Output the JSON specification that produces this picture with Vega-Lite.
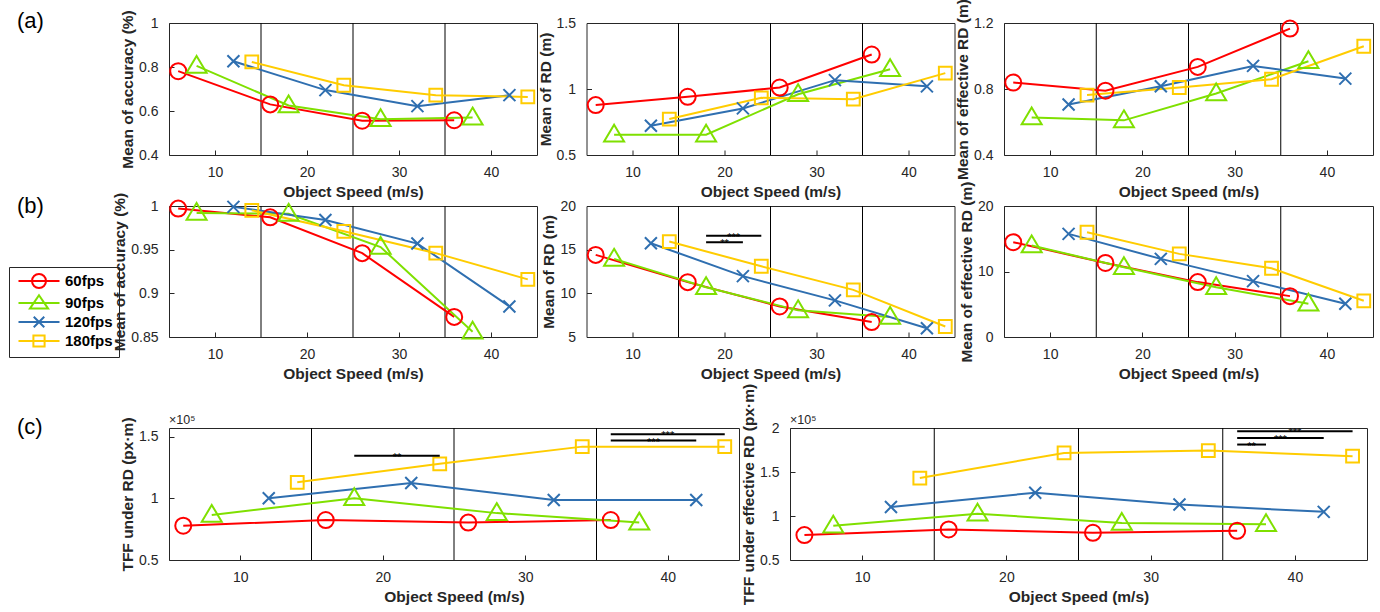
{
"$schema": "https://vega.github.io/schema/vega-lite/v6.json",
"padding": {"left": 8, "top": -2, "right": 0, "bottom": 0},
"config": {
 "font": "Liberation Sans",
 "view": {"stroke": "#262626", "strokeWidth": 1},
 "axis": {"grid": false, "domain": false, "tickColor": "#262626", "tickSize": -5, "tickWidth": 1, "labelColor": "#262626", "labelFontSize": 14, "labelPadding": 16, "titleFontSize": 15.5, "titleFontWeight": "bold", "titleColor": "#262626", "titlePadding": 3},
 "axisX": {"labelPadding": 15.5, "titlePadding": 5}
},
"datasets": {
 "d": [
  {"fps":"60fps","speed":6,"a1":0.781,"a2":0.878,"a3":0.839,"b1":0.997,"b2":14.4,"b3":14.47,"c1":77800,"c2":78300},
  {"fps":"60fps","speed":16,"a1":0.630,"a2":0.941,"a3":0.790,"b1":0.987,"b2":11.28,"b3":11.3,"c1":82400,"c2":84700},
  {"fps":"60fps","speed":26,"a1":0.556,"a2":1.011,"a3":0.934,"b1":0.946,"b2":8.5,"b3":8.38,"c1":80300,"c2":80900},
  {"fps":"60fps","speed":36,"a1":0.558,"a2":1.261,"a3":1.166,"b1":0.873,"b2":6.71,"b3":6.24,"c1":82400,"c2":83200},
  {"fps":"90fps","speed":8,"a1":0.805,"a2":0.654,"a3":0.627,"b1":0.992,"b2":13.95,"b3":13.96,"c1":86500,"c2":89000},
  {"fps":"90fps","speed":18,"a1":0.625,"a2":0.654,"a3":0.610,"b1":0.991,"b2":10.7,"b3":10.66,"c1":100000,"c2":102600},
  {"fps":"90fps","speed":28,"a1":0.563,"a2":0.96,"a3":0.773,"b1":0.953,"b2":8.05,"b3":7.6,"c1":88000,"c2":92000},
  {"fps":"90fps","speed":38,"a1":0.570,"a2":1.150,"a3":0.968,"b1":0.856,"b2":7.3,"b3":5.08,"c1":80300,"c2":90700},
  {"fps":"120fps","speed":12,"a1":0.826,"a2":0.722,"a3":0.706,"b1":0.999,"b2":15.74,"b3":15.74,"c1":100000,"c2":110300},
  {"fps":"120fps","speed":22,"a1":0.695,"a2":0.853,"a3":0.817,"b1":0.984,"b2":11.97,"b3":11.93,"c1":112400,"c2":126500},
  {"fps":"120fps","speed":32,"a1":0.622,"a2":1.067,"a3":0.940,"b1":0.957,"b2":9.19,"b3":8.53,"c1":98600,"c2":113000},
  {"fps":"120fps","speed":42,"a1":0.672,"a2":1.020,"a3":0.863,"b1":0.885,"b2":6.0,"b3":5.08,"c1":98600,"c2":104700},
  {"fps":"180fps","speed":14,"a1":0.823,"a2":0.772,"a3":0.763,"b1":0.995,"b2":15.93,"b3":15.99,"c1":113000,"c2":143100},
  {"fps":"180fps","speed":24,"a1":0.717,"a2":0.933,"a3":0.809,"b1":0.971,"b2":13.1,"b3":12.69,"c1":128000,"c2":171700},
  {"fps":"180fps","speed":34,"a1":0.672,"a2":0.923,"a3":0.859,"b1":0.946,"b2":10.4,"b3":10.5,"c1":141900,"c2":174400},
  {"fps":"180fps","speed":44,"a1":0.664,"a2":1.120,"a3":1.059,"b1":0.916,"b2":6.2,"b3":5.53,"c1":141900,"c2":168000}
 ],
 "vl": [{"speed":15},{"speed":25},{"speed":35}],
 "la": [{"speed":-11.52,"a1":1.009,"lab":"(a)"}],
 "lb": [{"speed":-11.52,"b1":1.0,"lab":"(b)"}],
 "lc": [{"speed":-5.67,"c1":157800,"lab":"(c)"}],
 "xc1": [{"speed":5,"c1":160240,"lab":"×10⁵"}],
 "xc2": [{"speed":5,"c2":204500,"lab":"×10⁵"}],
 "sb2": [{"speed":18,"speed2":24,"b2":16.6,"mid":21,"lab":"***"},{"speed":18,"speed2":22,"b2":15.85,"mid":20,"lab":"**"}],
 "sc1": [{"speed":18,"speed2":24,"c1":134600,"mid":21,"lab":"**"},{"speed":36,"speed2":44,"c1":151900,"mid":40,"lab":"***"},{"speed":36,"speed2":42,"c1":146800,"mid":39,"lab":"***"}],
 "sc2": [{"speed":36,"speed2":44,"c2":196200,"mid":40,"lab":"***"},{"speed":36,"speed2":42,"c2":188700,"mid":39,"lab":"***"},{"speed":36,"speed2":38,"c2":181200,"mid":37,"lab":"**"}]
},
"spacing": -1,
"vconcat": [
 {"spacing": -21, "vconcat": [
  {"spacing": 49.5, "bounds": "flush", "hconcat": [
   {"width": 368, "height": 132,
    "encoding": {"x": {"field": "speed", "type": "quantitative", "scale": {"domain": [5, 45], "nice": false}, "axis": {"values": [10, 20, 30, 40]}, "title": "Object Speed (m/s)"}},
    "layer": [
     {"data": {"name": "vl"}, "mark": {"type": "rule", "color": "#000000", "strokeWidth": 1}},
     {"data": {"name": "la"}, "mark": {"type": "text", "fontSize": 22, "color": "#000000", "align": "left", "baseline": "middle"},
      "encoding": {"y": {"field": "a1", "type": "quantitative", "title": "Mean of accuracy (%)"}, "text": {"field": "lab"}}},
     {"data": {"name": "d"}, "mark": {"type": "line", "strokeWidth": 2},
      "encoding": {"y": {"field": "a1", "type": "quantitative", "scale": {"domain": [0.4, 1], "nice": false, "zero": false}, "axis": {"values": [0.4, 0.6, 0.8, 1], "format": "~g"}, "title": "Mean of accuracy (%)"},
       "color": {"field": "fps", "type": "nominal", "scale": {"domain": ["60fps","90fps","120fps","180fps"], "range": ["#FF0000","#7FE000","#2F6FB0","#FFCC00"]},
        "legend": {"orient": "none", "legendX": -160, "legendY": 244, "title": null, "symbolSize": 196, "symbolStrokeWidth": 2, "symbolOffset": 16, "labelOffset": 18, "labelFontSize": 15, "labelFontWeight": "bold", "labelColor": "#000000", "strokeColor": "#262626", "padding": 6, "rowPadding": -1, "symbolFillColor": "transparent",
         "encode": {"symbols": {"update": {"shape": {"signal": "datum.value === '60fps' ? 'M-2.93,0L2.93,0M-1,0A1,1 0 1 1 1,0A1,1 0 1 1 -1,0' : datum.value === '90fps' ? 'M-2.93,0L2.93,0M0,-1.1L1.3,0.8L-1.3,0.8Z' : datum.value === '120fps' ? 'M-2.93,0L2.93,0M-0.75,-0.75L0.75,0.75M-0.75,0.75L0.75,-0.75' : 'M-2.93,0L2.93,0M-0.8,-0.8H0.8V0.8H-0.8Z'"}, "fill": {"value": "transparent"}, "stroke": {"scale": "color", "field": "value"}, "strokeWidth": {"value": 2}}}}}}}},
     {"data": {"name": "d"}, "transform": [{"filter": "datum.fps === '60fps'"}], "mark": {"type": "point", "shape": "M-1,0A1,1 0 1 1 1,0A1,1 0 1 1 -1,0Z", "size": 256, "filled": false, "strokeWidth": 2, "color": "#FF0000", "opacity": 1}, "encoding": {"y": {"field": "a1", "type": "quantitative", "title": "Mean of accuracy (%)"}}},
     {"data": {"name": "d"}, "transform": [{"filter": "datum.fps === '90fps'"}], "mark": {"type": "point", "shape": "M0,-1.25L1.25,0.85L-1.25,0.85Z", "size": 256, "filled": false, "strokeWidth": 2, "color": "#7FE000", "opacity": 1}, "encoding": {"y": {"field": "a1", "type": "quantitative", "title": "Mean of accuracy (%)"}}},
     {"data": {"name": "d"}, "transform": [{"filter": "datum.fps === '120fps'"}], "mark": {"type": "point", "shape": "M-0.75,-0.75L0.75,0.75M-0.75,0.75L0.75,-0.75", "size": 256, "filled": false, "strokeWidth": 2, "color": "#2F6FB0", "opacity": 1}, "encoding": {"y": {"field": "a1", "type": "quantitative", "title": "Mean of accuracy (%)"}}},
     {"data": {"name": "d"}, "transform": [{"filter": "datum.fps === '180fps'"}], "mark": {"type": "point", "shape": "M-0.8,-0.8H0.8V0.8H-0.8Z", "size": 256, "filled": false, "strokeWidth": 2, "color": "#FFCC00", "opacity": 1}, "encoding": {"y": {"field": "a1", "type": "quantitative", "title": "Mean of accuracy (%)"}}}
    ]},
   {"width": 368, "height": 132,
    "encoding": {"x": {"field": "speed", "type": "quantitative", "scale": {"domain": [5, 45], "nice": false}, "axis": {"values": [10, 20, 30, 40]}, "title": "Object Speed (m/s)"}},
    "layer": [
     {"data": {"name": "vl"}, "mark": {"type": "rule", "color": "#000000", "strokeWidth": 1}},
     {"data": {"name": "d"}, "mark": {"type": "line", "strokeWidth": 2},
      "encoding": {"y": {"field": "a2", "type": "quantitative", "scale": {"domain": [0.5, 1.5], "nice": false, "zero": false}, "axis": {"values": [0.5, 1, 1.5], "format": "~g"}, "title": "Mean of RD (m)"},
       "color": {"field": "fps", "type": "nominal", "legend": null}}},
     {"data": {"name": "d"}, "transform": [{"filter": "datum.fps === '60fps'"}], "mark": {"type": "point", "shape": "M-1,0A1,1 0 1 1 1,0A1,1 0 1 1 -1,0Z", "size": 256, "filled": false, "strokeWidth": 2, "color": "#FF0000", "opacity": 1}, "encoding": {"y": {"field": "a2", "type": "quantitative", "title": "Mean of RD (m)"}}},
     {"data": {"name": "d"}, "transform": [{"filter": "datum.fps === '90fps'"}], "mark": {"type": "point", "shape": "M0,-1.25L1.25,0.85L-1.25,0.85Z", "size": 256, "filled": false, "strokeWidth": 2, "color": "#7FE000", "opacity": 1}, "encoding": {"y": {"field": "a2", "type": "quantitative", "title": "Mean of RD (m)"}}},
     {"data": {"name": "d"}, "transform": [{"filter": "datum.fps === '120fps'"}], "mark": {"type": "point", "shape": "M-0.75,-0.75L0.75,0.75M-0.75,0.75L0.75,-0.75", "size": 256, "filled": false, "strokeWidth": 2, "color": "#2F6FB0", "opacity": 1}, "encoding": {"y": {"field": "a2", "type": "quantitative", "title": "Mean of RD (m)"}}},
     {"data": {"name": "d"}, "transform": [{"filter": "datum.fps === '180fps'"}], "mark": {"type": "point", "shape": "M-0.8,-0.8H0.8V0.8H-0.8Z", "size": 256, "filled": false, "strokeWidth": 2, "color": "#FFCC00", "opacity": 1}, "encoding": {"y": {"field": "a2", "type": "quantitative", "title": "Mean of RD (m)"}}}
    ]},
   {"width": 369, "height": 132,
    "encoding": {"x": {"field": "speed", "type": "quantitative", "scale": {"domain": [5, 45], "nice": false}, "axis": {"values": [10, 20, 30, 40]}, "title": "Object Speed (m/s)"}},
    "layer": [
     {"data": {"name": "vl"}, "mark": {"type": "rule", "color": "#000000", "strokeWidth": 1}},
     {"data": {"name": "d"}, "mark": {"type": "line", "strokeWidth": 2},
      "encoding": {"y": {"field": "a3", "type": "quantitative", "scale": {"domain": [0.4, 1.2], "nice": false, "zero": false}, "axis": {"values": [0.4, 0.6, 0.8, 1, 1.2], "format": "~g"}, "title": "Mean of effective RD (m)"},
       "color": {"field": "fps", "type": "nominal", "legend": null}}},
     {"data": {"name": "d"}, "transform": [{"filter": "datum.fps === '60fps'"}], "mark": {"type": "point", "shape": "M-1,0A1,1 0 1 1 1,0A1,1 0 1 1 -1,0Z", "size": 256, "filled": false, "strokeWidth": 2, "color": "#FF0000", "opacity": 1}, "encoding": {"y": {"field": "a3", "type": "quantitative", "title": "Mean of effective RD (m)"}}},
     {"data": {"name": "d"}, "transform": [{"filter": "datum.fps === '90fps'"}], "mark": {"type": "point", "shape": "M0,-1.25L1.25,0.85L-1.25,0.85Z", "size": 256, "filled": false, "strokeWidth": 2, "color": "#7FE000", "opacity": 1}, "encoding": {"y": {"field": "a3", "type": "quantitative", "title": "Mean of effective RD (m)"}}},
     {"data": {"name": "d"}, "transform": [{"filter": "datum.fps === '120fps'"}], "mark": {"type": "point", "shape": "M-0.75,-0.75L0.75,0.75M-0.75,0.75L0.75,-0.75", "size": 256, "filled": false, "strokeWidth": 2, "color": "#2F6FB0", "opacity": 1}, "encoding": {"y": {"field": "a3", "type": "quantitative", "title": "Mean of effective RD (m)"}}},
     {"data": {"name": "d"}, "transform": [{"filter": "datum.fps === '180fps'"}], "mark": {"type": "point", "shape": "M-0.8,-0.8H0.8V0.8H-0.8Z", "size": 256, "filled": false, "strokeWidth": 2, "color": "#FFCC00", "opacity": 1}, "encoding": {"y": {"field": "a3", "type": "quantitative", "title": "Mean of effective RD (m)"}}}
    ]}
  ]},
  {"spacing": 49.5, "bounds": "flush", "hconcat": [
   {"width": 368, "height": 131,
    "encoding": {"x": {"field": "speed", "type": "quantitative", "scale": {"domain": [5, 45], "nice": false}, "axis": {"values": [10, 20, 30, 40]}, "title": "Object Speed (m/s)"}},
    "layer": [
     {"data": {"name": "vl"}, "mark": {"type": "rule", "color": "#000000", "strokeWidth": 1}},
     {"data": {"name": "lb"}, "mark": {"type": "text", "fontSize": 22, "color": "#000000", "align": "left", "baseline": "middle"},
      "encoding": {"y": {"field": "b1", "type": "quantitative", "title": "Mean of accuracy (%)"}, "text": {"field": "lab"}}},
     {"data": {"name": "d"}, "mark": {"type": "line", "strokeWidth": 2},
      "encoding": {"y": {"field": "b1", "type": "quantitative", "scale": {"domain": [0.85, 1], "nice": false, "zero": false}, "axis": {"values": [0.85, 0.9, 0.95, 1], "format": "~g"}, "title": "Mean of accuracy (%)"},
       "color": {"field": "fps", "type": "nominal", "legend": null}}},
     {"data": {"name": "d"}, "transform": [{"filter": "datum.fps === '60fps'"}], "mark": {"type": "point", "shape": "M-1,0A1,1 0 1 1 1,0A1,1 0 1 1 -1,0Z", "size": 256, "filled": false, "strokeWidth": 2, "color": "#FF0000", "opacity": 1}, "encoding": {"y": {"field": "b1", "type": "quantitative", "title": "Mean of accuracy (%)"}}},
     {"data": {"name": "d"}, "transform": [{"filter": "datum.fps === '90fps'"}], "mark": {"type": "point", "shape": "M0,-1.25L1.25,0.85L-1.25,0.85Z", "size": 256, "filled": false, "strokeWidth": 2, "color": "#7FE000", "opacity": 1}, "encoding": {"y": {"field": "b1", "type": "quantitative", "title": "Mean of accuracy (%)"}}},
     {"data": {"name": "d"}, "transform": [{"filter": "datum.fps === '120fps'"}], "mark": {"type": "point", "shape": "M-0.75,-0.75L0.75,0.75M-0.75,0.75L0.75,-0.75", "size": 256, "filled": false, "strokeWidth": 2, "color": "#2F6FB0", "opacity": 1}, "encoding": {"y": {"field": "b1", "type": "quantitative", "title": "Mean of accuracy (%)"}}},
     {"data": {"name": "d"}, "transform": [{"filter": "datum.fps === '180fps'"}], "mark": {"type": "point", "shape": "M-0.8,-0.8H0.8V0.8H-0.8Z", "size": 256, "filled": false, "strokeWidth": 2, "color": "#FFCC00", "opacity": 1}, "encoding": {"y": {"field": "b1", "type": "quantitative", "title": "Mean of accuracy (%)"}}}
    ]},
   {"width": 368, "height": 131,
    "encoding": {"x": {"field": "speed", "type": "quantitative", "scale": {"domain": [5, 45], "nice": false}, "axis": {"values": [10, 20, 30, 40]}, "title": "Object Speed (m/s)"}},
    "layer": [
     {"data": {"name": "vl"}, "mark": {"type": "rule", "color": "#000000", "strokeWidth": 1}},
     {"data": {"name": "d"}, "mark": {"type": "line", "strokeWidth": 2},
      "encoding": {"y": {"field": "b2", "type": "quantitative", "scale": {"domain": [5, 20], "nice": false, "zero": false}, "axis": {"values": [5, 10, 15, 20], "format": "~g"}, "title": "Mean of RD (m)"},
       "color": {"field": "fps", "type": "nominal", "legend": null}}},
     {"data": {"name": "d"}, "transform": [{"filter": "datum.fps === '60fps'"}], "mark": {"type": "point", "shape": "M-1,0A1,1 0 1 1 1,0A1,1 0 1 1 -1,0Z", "size": 256, "filled": false, "strokeWidth": 2, "color": "#FF0000", "opacity": 1}, "encoding": {"y": {"field": "b2", "type": "quantitative", "title": "Mean of RD (m)"}}},
     {"data": {"name": "d"}, "transform": [{"filter": "datum.fps === '90fps'"}], "mark": {"type": "point", "shape": "M0,-1.25L1.25,0.85L-1.25,0.85Z", "size": 256, "filled": false, "strokeWidth": 2, "color": "#7FE000", "opacity": 1}, "encoding": {"y": {"field": "b2", "type": "quantitative", "title": "Mean of RD (m)"}}},
     {"data": {"name": "d"}, "transform": [{"filter": "datum.fps === '120fps'"}], "mark": {"type": "point", "shape": "M-0.75,-0.75L0.75,0.75M-0.75,0.75L0.75,-0.75", "size": 256, "filled": false, "strokeWidth": 2, "color": "#2F6FB0", "opacity": 1}, "encoding": {"y": {"field": "b2", "type": "quantitative", "title": "Mean of RD (m)"}}},
     {"data": {"name": "d"}, "transform": [{"filter": "datum.fps === '180fps'"}], "mark": {"type": "point", "shape": "M-0.8,-0.8H0.8V0.8H-0.8Z", "size": 256, "filled": false, "strokeWidth": 2, "color": "#FFCC00", "opacity": 1}, "encoding": {"y": {"field": "b2", "type": "quantitative", "title": "Mean of RD (m)"}}},
     {"data": {"name": "sb2"}, "mark": {"type": "rule", "color": "#000000", "strokeWidth": 2},
      "encoding": {"x2": {"field": "speed2"}, "y": {"field": "b2", "type": "quantitative", "title": "Mean of RD (m)"}}},
     {"data": {"name": "sb2"}, "mark": {"type": "text", "fontSize": 11, "color": "#000000", "baseline": "alphabetic", "dy": 5},
      "encoding": {"x": {"field": "mid", "type": "quantitative", "title": "Object Speed (m/s)"}, "y": {"field": "b2", "type": "quantitative", "title": "Mean of RD (m)"}, "text": {"field": "lab"}}}
    ]},
   {"width": 369, "height": 131,
    "encoding": {"x": {"field": "speed", "type": "quantitative", "scale": {"domain": [5, 45], "nice": false}, "axis": {"values": [10, 20, 30, 40]}, "title": "Object Speed (m/s)"}},
    "layer": [
     {"data": {"name": "vl"}, "mark": {"type": "rule", "color": "#000000", "strokeWidth": 1}},
     {"data": {"name": "d"}, "mark": {"type": "line", "strokeWidth": 2},
      "encoding": {"y": {"field": "b3", "type": "quantitative", "scale": {"domain": [0, 20], "nice": false, "zero": false}, "axis": {"values": [0, 5, 10, 15, 20], "format": "~g"}, "title": "Mean of effective RD (m)"},
       "color": {"field": "fps", "type": "nominal", "legend": null}}},
     {"data": {"name": "d"}, "transform": [{"filter": "datum.fps === '60fps'"}], "mark": {"type": "point", "shape": "M-1,0A1,1 0 1 1 1,0A1,1 0 1 1 -1,0Z", "size": 256, "filled": false, "strokeWidth": 2, "color": "#FF0000", "opacity": 1}, "encoding": {"y": {"field": "b3", "type": "quantitative", "title": "Mean of effective RD (m)"}}},
     {"data": {"name": "d"}, "transform": [{"filter": "datum.fps === '90fps'"}], "mark": {"type": "point", "shape": "M0,-1.25L1.25,0.85L-1.25,0.85Z", "size": 256, "filled": false, "strokeWidth": 2, "color": "#7FE000", "opacity": 1}, "encoding": {"y": {"field": "b3", "type": "quantitative", "title": "Mean of effective RD (m)"}}},
     {"data": {"name": "d"}, "transform": [{"filter": "datum.fps === '120fps'"}], "mark": {"type": "point", "shape": "M-0.75,-0.75L0.75,0.75M-0.75,0.75L0.75,-0.75", "size": 256, "filled": false, "strokeWidth": 2, "color": "#2F6FB0", "opacity": 1}, "encoding": {"y": {"field": "b3", "type": "quantitative", "title": "Mean of effective RD (m)"}}},
     {"data": {"name": "d"}, "transform": [{"filter": "datum.fps === '180fps'"}], "mark": {"type": "point", "shape": "M-0.8,-0.8H0.8V0.8H-0.8Z", "size": 256, "filled": false, "strokeWidth": 2, "color": "#FFCC00", "opacity": 1}, "encoding": {"y": {"field": "b3", "type": "quantitative", "title": "Mean of effective RD (m)"}}}
    ]}
  ]}
 ]},
 {"spacing": 51, "bounds": "flush", "hconcat": [
  {"width": 570, "height": 132,
   "encoding": {"x": {"field": "speed", "type": "quantitative", "scale": {"domain": [5, 45], "nice": false}, "axis": {"values": [10, 20, 30, 40]}, "title": "Object Speed (m/s)"}},
   "layer": [
    {"data": {"name": "vl"}, "mark": {"type": "rule", "color": "#000000", "strokeWidth": 1}},
    {"data": {"name": "lc"}, "mark": {"type": "text", "fontSize": 22, "color": "#000000", "align": "left", "baseline": "middle"},
     "encoding": {"y": {"field": "c1", "type": "quantitative", "title": "TFF under RD (px·m)"}, "text": {"field": "lab"}}},
    {"data": {"name": "xc1"}, "mark": {"type": "text", "fontSize": 12.5, "color": "#262626", "align": "left", "baseline": "alphabetic"},
     "encoding": {"y": {"field": "c1", "type": "quantitative", "title": "TFF under RD (px·m)"}, "text": {"field": "lab"}}},
    {"data": {"name": "d"}, "mark": {"type": "line", "strokeWidth": 2},
     "encoding": {"y": {"field": "c1", "type": "quantitative", "scale": {"domain": [50000, 157000], "nice": false, "zero": false}, "axis": {"values": [50000, 100000, 150000], "labelExpr": "format(datum.value/100000, '~g')"}, "title": "TFF under RD (px·m)"},
      "color": {"field": "fps", "type": "nominal", "legend": null}}},
    {"data": {"name": "d"}, "transform": [{"filter": "datum.fps === '60fps'"}], "mark": {"type": "point", "shape": "M-1,0A1,1 0 1 1 1,0A1,1 0 1 1 -1,0Z", "size": 256, "filled": false, "strokeWidth": 2, "color": "#FF0000", "opacity": 1}, "encoding": {"y": {"field": "c1", "type": "quantitative", "title": "TFF under RD (px·m)"}}},
    {"data": {"name": "d"}, "transform": [{"filter": "datum.fps === '90fps'"}], "mark": {"type": "point", "shape": "M0,-1.25L1.25,0.85L-1.25,0.85Z", "size": 256, "filled": false, "strokeWidth": 2, "color": "#7FE000", "opacity": 1}, "encoding": {"y": {"field": "c1", "type": "quantitative", "title": "TFF under RD (px·m)"}}},
    {"data": {"name": "d"}, "transform": [{"filter": "datum.fps === '120fps'"}], "mark": {"type": "point", "shape": "M-0.75,-0.75L0.75,0.75M-0.75,0.75L0.75,-0.75", "size": 256, "filled": false, "strokeWidth": 2, "color": "#2F6FB0", "opacity": 1}, "encoding": {"y": {"field": "c1", "type": "quantitative", "title": "TFF under RD (px·m)"}}},
    {"data": {"name": "d"}, "transform": [{"filter": "datum.fps === '180fps'"}], "mark": {"type": "point", "shape": "M-0.8,-0.8H0.8V0.8H-0.8Z", "size": 256, "filled": false, "strokeWidth": 2, "color": "#FFCC00", "opacity": 1}, "encoding": {"y": {"field": "c1", "type": "quantitative", "title": "TFF under RD (px·m)"}}},
    {"data": {"name": "sc1"}, "mark": {"type": "rule", "color": "#000000", "strokeWidth": 2},
     "encoding": {"x2": {"field": "speed2"}, "y": {"field": "c1", "type": "quantitative", "title": "TFF under RD (px·m)"}}},
    {"data": {"name": "sc1"}, "mark": {"type": "text", "fontSize": 11, "color": "#000000", "baseline": "alphabetic", "dy": 5},
     "encoding": {"x": {"field": "mid", "type": "quantitative", "title": "Object Speed (m/s)"}, "y": {"field": "c1", "type": "quantitative", "title": "TFF under RD (px·m)"}, "text": {"field": "lab"}}}
   ]},
  {"width": 577, "height": 132,
   "encoding": {"x": {"field": "speed", "type": "quantitative", "scale": {"domain": [5, 45], "nice": false}, "axis": {"values": [10, 20, 30, 40]}, "title": "Object Speed (m/s)"}},
   "layer": [
    {"data": {"name": "vl"}, "mark": {"type": "rule", "color": "#000000", "strokeWidth": 1}},
    {"data": {"name": "xc2"}, "mark": {"type": "text", "fontSize": 12.5, "color": "#262626", "align": "left", "baseline": "alphabetic"},
     "encoding": {"y": {"field": "c2", "type": "quantitative", "title": "TFF under effective RD (px·m)"}, "text": {"field": "lab"}}},
    {"data": {"name": "d"}, "mark": {"type": "line", "strokeWidth": 2},
     "encoding": {"y": {"field": "c2", "type": "quantitative", "scale": {"domain": [50000, 200000], "nice": false, "zero": false}, "axis": {"values": [50000, 100000, 150000, 200000], "labelExpr": "format(datum.value/100000, '~g')"}, "title": "TFF under effective RD (px·m)"},
      "color": {"field": "fps", "type": "nominal", "legend": null}}},
    {"data": {"name": "d"}, "transform": [{"filter": "datum.fps === '60fps'"}], "mark": {"type": "point", "shape": "M-1,0A1,1 0 1 1 1,0A1,1 0 1 1 -1,0Z", "size": 256, "filled": false, "strokeWidth": 2, "color": "#FF0000", "opacity": 1}, "encoding": {"y": {"field": "c2", "type": "quantitative", "title": "TFF under effective RD (px·m)"}}},
    {"data": {"name": "d"}, "transform": [{"filter": "datum.fps === '90fps'"}], "mark": {"type": "point", "shape": "M0,-1.25L1.25,0.85L-1.25,0.85Z", "size": 256, "filled": false, "strokeWidth": 2, "color": "#7FE000", "opacity": 1}, "encoding": {"y": {"field": "c2", "type": "quantitative", "title": "TFF under effective RD (px·m)"}}},
    {"data": {"name": "d"}, "transform": [{"filter": "datum.fps === '120fps'"}], "mark": {"type": "point", "shape": "M-0.75,-0.75L0.75,0.75M-0.75,0.75L0.75,-0.75", "size": 256, "filled": false, "strokeWidth": 2, "color": "#2F6FB0", "opacity": 1}, "encoding": {"y": {"field": "c2", "type": "quantitative", "title": "TFF under effective RD (px·m)"}}},
    {"data": {"name": "d"}, "transform": [{"filter": "datum.fps === '180fps'"}], "mark": {"type": "point", "shape": "M-0.8,-0.8H0.8V0.8H-0.8Z", "size": 256, "filled": false, "strokeWidth": 2, "color": "#FFCC00", "opacity": 1}, "encoding": {"y": {"field": "c2", "type": "quantitative", "title": "TFF under effective RD (px·m)"}}},
    {"data": {"name": "sc2"}, "mark": {"type": "rule", "color": "#000000", "strokeWidth": 2},
     "encoding": {"x2": {"field": "speed2"}, "y": {"field": "c2", "type": "quantitative", "title": "TFF under effective RD (px·m)"}}},
    {"data": {"name": "sc2"}, "mark": {"type": "text", "fontSize": 11, "color": "#000000", "baseline": "alphabetic", "dy": 5},
     "encoding": {"x": {"field": "mid", "type": "quantitative", "title": "Object Speed (m/s)"}, "y": {"field": "c2", "type": "quantitative", "title": "TFF under effective RD (px·m)"}, "text": {"field": "lab"}}}
   ]}
 ]}
]
}
